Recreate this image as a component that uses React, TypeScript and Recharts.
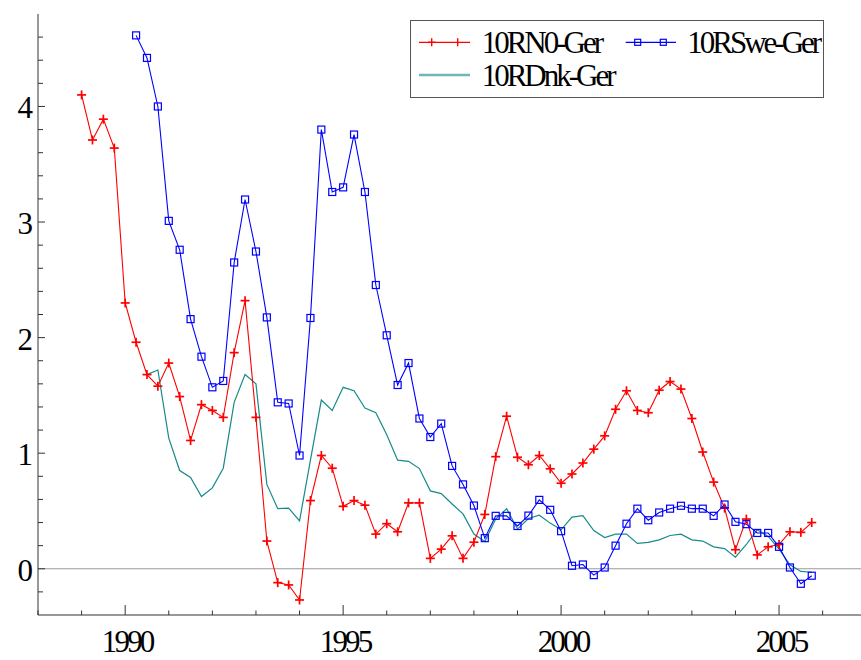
import React from 'react';
import { LineChart, Line, XAxis, YAxis, ReferenceLine, Legend } from 'recharts';

const QUARTERS = [
  1989, 1989.25, 1989.5, 1989.75,
  1990, 1990.25, 1990.5, 1990.75,
  1991, 1991.25, 1991.5, 1991.75,
  1992, 1992.25, 1992.5, 1992.75,
  1993, 1993.25, 1993.5, 1993.75,
  1994, 1994.25, 1994.5, 1994.75,
  1995, 1995.25, 1995.5, 1995.75,
  1996, 1996.25, 1996.5, 1996.75,
  1997, 1997.25, 1997.5, 1997.75,
  1998, 1998.25, 1998.5, 1998.75,
  1999, 1999.25, 1999.5, 1999.75,
  2000, 2000.25, 2000.5, 2000.75,
  2001, 2001.25, 2001.5, 2001.75,
  2002, 2002.25, 2002.5, 2002.75,
  2003, 2003.25, 2003.5, 2003.75,
  2004, 2004.25, 2004.5, 2004.75,
  2005, 2005.25, 2005.5, 2005.75,
];

const NOR_GER = [
  4.10, 3.71, 3.89, 3.64,
  2.30, 1.96, 1.68, 1.58,
  1.78, 1.49, 1.11, 1.42,
  1.37, 1.31, 1.87, 2.32,
  1.31, 0.24, -0.12, -0.14,
  -0.27, 0.59, 0.98, 0.87,
  0.54, 0.59, 0.55, 0.30,
  0.39, 0.32, 0.57, 0.57,
  0.09, 0.17, 0.285, 0.09,
  0.23, 0.47, 0.97, 1.32,
  0.965, 0.90, 0.98, 0.865,
  0.74, 0.82, 0.915, 1.035,
  1.15, 1.38, 1.54, 1.37,
  1.35, 1.545, 1.62, 1.555,
  1.30, 1.01, 0.75, 0.525,
  0.165, 0.43, 0.12, 0.19,
  0.21, 0.32, 0.315, 0.40,
];

const SWE_GER = [
  null, null, null, null,
  null, 4.615, 4.42, 4.00,
  3.01, 2.76, 2.16, 1.835,
  1.57, 1.625, 2.65, 3.195,
  2.745, 2.175, 1.44, 1.43,
  0.98, 2.17, 3.80, 3.26,
  3.30, 3.757, 3.26, 2.455,
  2.02, 1.59, 1.78, 1.30,
  1.14, 1.256, 0.89, 0.73,
  0.547, 0.265, 0.458, 0.458,
  0.37, 0.46, 0.596, 0.51,
  0.325, 0.026, 0.037, -0.055,
  0.011, 0.20, 0.39, 0.52,
  0.42, 0.487, 0.52, 0.545,
  0.52, 0.52, 0.458, 0.556,
  0.406, 0.386, 0.31, 0.31,
  0.19, 0.011, -0.13, -0.06,
];

const DNK_GER = [
  null, null, null, null,
  null, null, 1.68, 1.72,
  1.13, 0.85, 0.79, 0.625,
  0.70, 0.87, 1.44, 1.68,
  1.60, 0.73, 0.52, 0.525,
  0.415, 0.94, 1.46, 1.37,
  1.57, 1.54, 1.39, 1.35,
  1.16, 0.94, 0.93, 0.867,
  0.674, 0.65, 0.56, 0.475,
  0.30, 0.236, 0.43, 0.52,
  0.343, 0.435, 0.464, 0.395,
  0.337, 0.447, 0.46, 0.33,
  0.27, 0.30, 0.30, 0.22,
  0.228, 0.25, 0.288, 0.30,
  0.25, 0.24, 0.19, 0.175,
  0.10, 0.21, 0.337, 0.28,
  0.17, 0.035, -0.023, -0.03,
];

const SERIES_NAMES = ['10RN0-Ger', '10RSwe-Ger', '10RDnk-Ger'];

const X_TICKS = [1988, 1989, 1990, 1991, 1992, 1993, 1994, 1995, 1996, 1997, 1998, 1999, 2000, 2001, 2002, 2003, 2004, 2005, 2006];
const X_LABELS = [1990, 1995, 2000, 2005];
const Y_TICKS = [-0.2, 0, 0.2, 0.4, 0.6, 0.8, 1, 1.2, 1.4, 1.6, 1.8, 2, 2.2, 2.4, 2.6, 2.8, 3, 3.2, 3.4, 3.6, 3.8, 4, 4.2, 4.4, 4.6];
const Y_LABELS = [0, 1, 2, 3, 4];

const data = QUARTERS.map((t, i) => ({ t, nor: NOR_GER[i], swe: SWE_GER[i], dnk: DNK_GER[i] }));

const FONT = '"Liberation Serif", "DejaVu Serif", serif';
const RED = '#ff0000';
const BLUE = '#0000ff';
const TEAL = '#178a8a';
const AXIS = '#333333';

const PlusDot = (p: any) => {
  const { cx, cy, key, index } = p;
  if (cx == null || cy == null || p.value == null) return <g key={key ?? `p${index}`} />;
  return (
    <g key={key ?? `p${index}`}>
      <line x1={cx - 4.5} x2={cx + 4.5} y1={cy} y2={cy} stroke={RED} strokeWidth={1.7} />
      <line x1={cx} x2={cx} y1={cy - 4.5} y2={cy + 4.5} stroke={RED} strokeWidth={1.7} />
    </g>
  );
};

const SquareDot = (p: any) => {
  const { cx, cy, key, index } = p;
  if (cx == null || cy == null || p.value == null) return <g key={key ?? `s${index}`} />;
  return <rect key={key ?? `s${index}`} x={cx - 3.5} y={cy - 3.5} width={7} height={7} fill="none" stroke={BLUE} strokeWidth={1.2} />;
};

const YTick = (p: any) => {
  const { x, y, payload } = p;
  const v = payload.value;
  const major = Y_LABELS.some((l) => Math.abs(l - v) < 1e-6);
  return (
    <g>
      <line x1={x} x2={x + (major ? 7 : 5)} y1={y} y2={y} stroke={AXIS} strokeWidth={1} />
      {major && (
        <text x={x - 5} y={y + 12} textAnchor="end" fontSize={31} fontFamily={FONT} fill="#000">
          {Math.round(v)}
        </text>
      )}
    </g>
  );
};

const XTick = (p: any) => {
  const { x, y, payload } = p;
  const v = payload.value;
  const major = X_LABELS.includes(v);
  return (
    <g>
      <line x1={x} x2={x} y1={y} y2={y - (major ? 10 : 4.5)} stroke={AXIS} strokeWidth={1} />
      {major && (
        <text x={x + 2} y={y + 37} textAnchor="middle" fontSize={31} letterSpacing={-2.8} fontFamily={FONT} fill="#000">
          {v}
        </text>
      )}
    </g>
  );
};

const LegendContent = () => (
  <svg width={415} height={79} style={{ display: 'block' }}>
    <rect x={0.5} y={0.5} width={413} height={77} fill="#fff" stroke="#555" strokeWidth={1} />
    <line x1={9} x2={60} y1={22.3} y2={22.3} stroke={RED} strokeWidth={1.2} />
    <line x1={18} x2={25.5} y1={22.3} y2={22.3} stroke={RED} strokeWidth={1.4} />
    <line x1={21.7} x2={21.7} y1={18.3} y2={26.3} stroke={RED} strokeWidth={1.4} />
    <line x1={47.7} x2={47.7} y1={18.3} y2={26.3} stroke={RED} strokeWidth={1.4} />
    <text x={71.7} y={33} fontSize={31} letterSpacing={-3} fontFamily={FONT} fill="#000">{SERIES_NAMES[0]}</text>
    <line x1={215.7} x2={266} y1={22.3} y2={22.3} stroke={BLUE} strokeWidth={1.2} />
    <rect x={224.7} y={19.3} width={6} height={6} fill="none" stroke={BLUE} strokeWidth={1.2} />
    <rect x={250.3} y={19.3} width={6} height={6} fill="none" stroke={BLUE} strokeWidth={1.2} />
    <text x={277.3} y={33} fontSize={31} letterSpacing={-3} fontFamily={FONT} fill="#000">{SERIES_NAMES[1]}</text>
    <line x1={9} x2={60} y1={55} y2={55} stroke="#6fb7b7" strokeWidth={2.4} />
    <text x={71.7} y={66} fontSize={31} letterSpacing={-3} fontFamily={FONT} fill="#000">{SERIES_NAMES[2]}</text>
  </svg>
);

export default function App() {
  return (
    <div style={{ position: 'absolute', left: 0, top: 0, width: 861, height: 660, background: '#fff' }}>
      <LineChart width={861} height={660} data={data} margin={{ top: 14, right: 0, left: 0, bottom: 0 }}>
        <XAxis
          dataKey="t"
          type="number"
          domain={[1988, 2006.88]}
          allowDataOverflow
          ticks={X_TICKS}
          interval={0}
          height={45}
          tickSize={0}
          tickMargin={0}
          tickLine={false}
          axisLine={{ stroke: AXIS, strokeWidth: 1 }}
          tick={XTick}
        />
        <YAxis
          type="number"
          domain={[-0.4, 4.8]}
          allowDataOverflow
          ticks={Y_TICKS}
          interval={0}
          width={38}
          tickSize={0}
          tickMargin={0}
          tickLine={false}
          axisLine={{ stroke: AXIS, strokeWidth: 1 }}
          tick={YTick}
        />
        <ReferenceLine y={0} stroke="#999" strokeWidth={1} />
        <Line dataKey="dnk" name={SERIES_NAMES[2]} stroke={TEAL} strokeWidth={1.2} dot={false} isAnimationActive={false} />
        <Line dataKey="nor" name={SERIES_NAMES[0]} stroke={RED} strokeWidth={1.1} dot={PlusDot} isAnimationActive={false} />
        <Line dataKey="swe" name={SERIES_NAMES[1]} stroke={BLUE} strokeWidth={1.1} dot={SquareDot} isAnimationActive={false} />
        <Legend
          layout="horizontal"
          verticalAlign="middle"
          align="center"
          content={LegendContent}
          wrapperStyle={{ position: 'absolute', left: 410, top: 20, width: 415, height: 79, margin: 0, padding: 0 }}
        />
      </LineChart>
    </div>
  );
}
